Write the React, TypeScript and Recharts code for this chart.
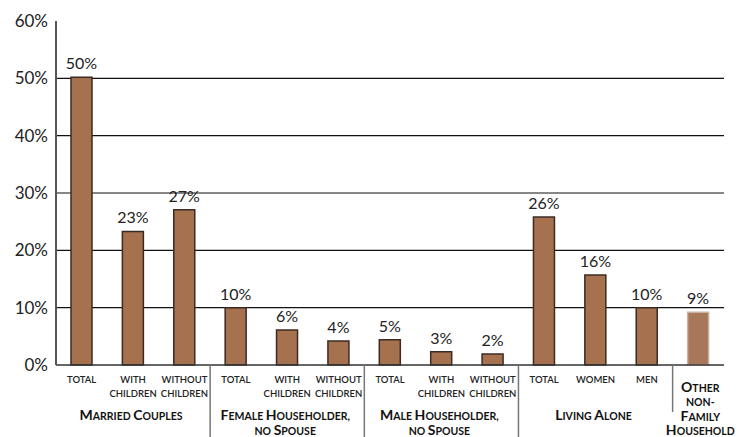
import React from "react";
import { BarChart, Bar, XAxis, YAxis, CartesianGrid, LabelList, Cell } from "recharts";

const subLabels: string[][] = [
  ["TOTAL"], ["WITH", "CHILDREN"], ["WITHOUT", "CHILDREN"],
  ["TOTAL"], ["WITH", "CHILDREN"], ["WITHOUT", "CHILDREN"],
  ["TOTAL"], ["WITH", "CHILDREN"], ["WITHOUT", "CHILDREN"],
  ["TOTAL"], ["WOMEN"], ["MEN"],
  [""],
];
const values: number[] = [50.2, 23.3, 27.1, 10.0, 6.1, 4.2, 4.4, 2.3, 1.9, 25.8, 15.7, 10.0, 9.2];
const valueLabels: string[] = ["50%", "23%", "27%", "10%", "6%", "4%", "5%", "3%", "2%", "26%", "16%", "10%", "9%"];
const groupNames: string[][] = [
  ["Married Couples"],
  ["Female Householder,", "no Spouse"],
  ["Male Householder,", "no Spouse"],
  ["Living Alone"],
  ["Other", "non-", "Family", "Household"],
];
const groupStarts: number[] = [0, 3, 6, 9, 12];
const groupEnds: number[] = [2, 5, 8, 11, 12];
const yTicks: number[] = [0, 10, 20, 30, 40, 50, 60];
const gridValues: number[] = [10, 20, 30, 40, 50];

const data = values.map((v, i) => ({ cat: subLabels[i].join(" ") || "Other", value: v, label: valueLabels[i] }));

const W = 746;
const H = 437;
const M_LEFT = 56;
const M_RIGHT = 22;
const FONT = "Lato, 'Open Sans', sans-serif";
const BAND = (W - M_LEFT - M_RIGHT) / values.length;

function smallCaps(text: string, big: number, small: number) {
  const parts: { t: string; s: number }[] = [];
  for (const ch of text) {
    const isBig = ch !== ch.toLowerCase();
    const size = isBig ? big : small;
    const c = ch.toUpperCase();
    if (parts.length && parts[parts.length - 1].s === size) parts[parts.length - 1].t += c;
    else parts.push({ t: c, s: size });
  }
  return parts.map((p, k) => (
    <tspan key={k} fontSize={p.s}>{p.t}</tspan>
  ));
}

const CatTick = (props: any) => {
  const { x, y, index } = props;
  const lines = subLabels[index] || [];
  const gi = groupStarts.findIndex((s, g) => index >= s && index <= groupEnds[g]);
  const mid = Math.floor((groupStarts[gi] + groupEnds[gi]) / 2);
  const isSingle = groupStarts[gi] === groupEnds[gi];
  const els: React.ReactNode[] = [];
  lines.forEach((l, k) => {
    if (!l) return;
    els.push(
      <text key={"s" + k} x={x} y={y + 18 + k * 14} textAnchor="middle" fontSize={9.5} fontWeight={600} fill="#222" fontFamily={FONT}>
        {l}
      </text>
    );
  });
  if (index === mid) {
    const gl = groupNames[gi];
    gl.forEach((l, k) => {
      const yy = isSingle ? y + 27 + k * 14.3 : y + 55 + k * 15;
      els.push(
        <text key={"g" + k} x={x + (isSingle ? 2 : -2)} y={yy} textAnchor="middle" fontWeight={700} fill="#111" fontFamily={FONT}>
          {smallCaps(l, 14, 10.5)}
        </text>
      );
    });
  }
  if (index === groupStarts[gi] && index > 0) {
    const lx = x - BAND / 2;
    els.push(
      <line key="div" x1={lx} x2={lx} y1={y} y2={isSingle ? y + 47 : H} stroke="#777" strokeWidth={1.5} />
    );
  }
  return <g>{els}</g>;
};

export default function App() {
  return (
    <div style={{ position: "absolute", left: 0, top: 0, background: "#fff" }}>
      <BarChart width={W} height={H} data={data} margin={{ top: 21, right: M_RIGHT, left: 0, bottom: 0 }} barCategoryGap={0}>
        <CartesianGrid vertical={false} horizontalValues={gridValues} stroke="#111" strokeWidth={1.2} />
        <XAxis
          dataKey="cat"
          interval={0}
          height={72}
          tickLine={false}
          tickSize={0}
          tickMargin={0}
          axisLine={{ stroke: "#333", strokeWidth: 1.5 }}
          tick={<CatTick />}
        />
        <YAxis
          width={M_LEFT}
          domain={[0, 60]}
          ticks={yTicks}
          interval={0}
          tickLine={false}
          axisLine={{ stroke: "#555", strokeWidth: 2 }}
          tickFormatter={(v: number) => `${v}%`}
          tick={{ fontSize: 17, fill: "#222", fontFamily: FONT }}
        />
        <Bar dataKey="value" barSize={21} fill="#a5714f" stroke="#3b2b22" strokeWidth={1.5} isAnimationActive={false}>
          {data.map((d, i) => (
            <Cell key={i} fill={i === data.length - 1 ? "#a8775a" : "#a5714f"} stroke={i === data.length - 1 ? "#c9b2a4" : "#3b2b22"} />
          ))}
          <LabelList dataKey="label" position="top" offset={8} fontSize={16} fill="#222" fontFamily={FONT} />
        </Bar>
      </BarChart>
    </div>
  );
}
